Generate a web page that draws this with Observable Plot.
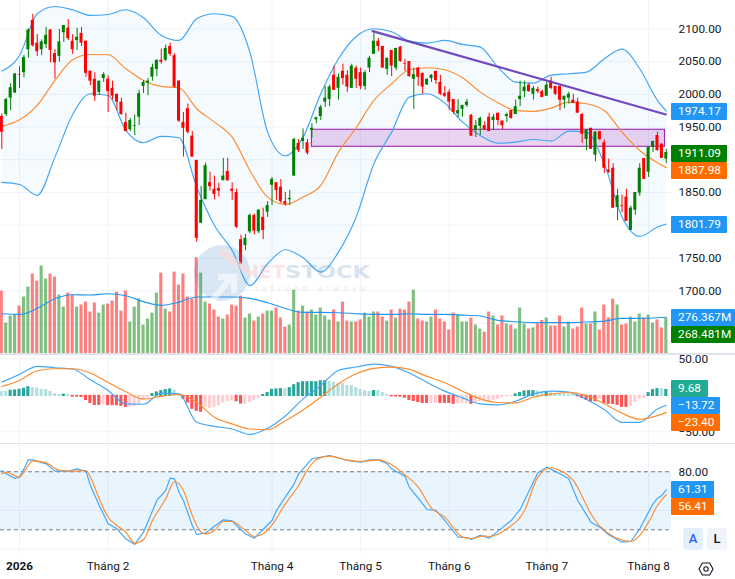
<!DOCTYPE html>
<html>
<head>
<meta charset="utf-8">
<style>
html,body{margin:0;padding:0;background:#fff;}
#root{position:relative;width:735px;height:579px;overflow:hidden;font-family:Roboto,sans-serif;}
#root svg{position:absolute;left:0;}
.sep{position:absolute;left:0;width:735px;background:#e0e3eb;}
.tag{position:absolute;left:671px;height:17px;line-height:17px;color:#fff;font-size:11.8px;padding-left:7px;box-sizing:border-box;border-radius:1px;white-space:nowrap;}
.btn{position:absolute;top:528px;width:20px;height:22px;line-height:22px;border-radius:3px;text-align:center;font-size:13px;font-weight:500;}
</style>
</head>
<body>
<div id="root"></div>
<script src="https://cdn.jsdelivr.net/npm/d3@7"></script>
<script src="https://cdn.jsdelivr.net/npm/@observablehq/plot@0.6"></script>
<script>
// ---- candles: one entry per session ----
const open = [1966,1969,1994,2002,2030,2033,2068,2113,2078,2068,
2076,2098,2062,2058,2094,2101,2081,2082,2093,2081,
2035,2023,2003,2024,2023,2009,2000,1988,1957,1946,
1951,1965,2012,2017,2026,2038,2052,2052,2073,2059,
2020,1957,1978,1936,1899,1803,1839,1865,1855,1856,
1868,1882,1855,1850,1778,1769,1790,1815,1790,1812,
1820,1861,1865,1858,1836,1839,1875,1925,1928,1926,
1945,1961,1966,1988,1992,2029,2009,2035,2029,2009,
2040,2033,2012,2040,2061,2081,2073,2038,2067,2040,
2072,2047,2050,2023,2040,2032,2014,2024,2035,2018,
2001,2003,1992,1970,1977,1983,1968,1945,1951,1952,
1965,1960,1971,1959,1966,1975,1969,1992,2004,2014,
2000,2007,2004,1997,2020,2012,2012,1991,1994,1991,
1988,1969,1931,1948,1907,1943,1926,1884,1887,1827,
1830,1843,1792,1823,1849,1902,1881,1919,1937,1924,
1901];
const high = [1970,1994,2016,2032,2042,2059,2100,2122,2091,2083,
2102,2099,2068,2099,2105,2114,2091,2101,2102,2081,
2036,2033,2020,2033,2028,2020,2000,1994,1971,1963,
1968,2006,2021,2024,2046,2052,2069,2075,2078,2062,
2021,1972,1985,1943,1899,1859,1895,1881,1875,1864,
1902,1902,1865,1855,1785,1786,1817,1817,1824,1826,
1836,1873,1865,1870,1850,1853,1933,1931,1947,1931,
1955,1965,1983,2012,2014,2043,2031,2046,2036,2046,
2043,2040,2036,2058,2093,2085,2073,2055,2067,2070,
2073,2053,2050,2040,2041,2032,2023,2030,2035,2029,
2012,2007,1992,1992,1983,1992,1969,1960,1965,1958,
1971,1969,1971,1959,1971,1975,1991,2020,2020,2017,
2012,2011,2006,2018,2026,2012,2014,1997,2003,2000,
1994,1971,1946,1948,1943,1943,1930,1901,1894,1855,
1846,1855,1829,1850,1894,1902,1920,1928,1942,1924,
1916];
const low = [1916,1966,1975,2001,2009,2025,2055,2072,2058,2059,
2070,2048,2023,2049,2079,2082,2061,2067,2073,2026,
2013,1989,1998,2018,1972,1991,1975,1968,1943,1943,
1937,1952,2001,1998,2020,2027,2046,2050,2058,2009,
1957,1904,1939,1904,1774,1803,1839,1852,1839,1843,
1868,1867,1838,1795,1740,1761,1787,1785,1787,1778,
1812,1830,1838,1833,1829,1830,1875,1911,1916,1907,
1933,1955,1960,1980,1981,2006,1991,2014,2003,2009,
2009,2007,2006,2033,2061,2065,2040,2029,2027,2036,
2049,2035,2026,1977,2012,2000,2014,2018,2015,1998,
1995,1975,1969,1964,1965,1980,1936,1934,1937,1945,
1943,1945,1952,1946,1957,1962,1969,1981,1995,2003,
1991,2001,1995,1997,2007,1998,1975,1978,1985,1986,
1971,1925,1914,1916,1897,1929,1879,1879,1826,1807,
1819,1806,1792,1815,1844,1870,1873,1911,1913,1902,
1894];
const close = [1942,1992,2010,2031,2029,2056,2098,2074,2065,2080,
2090,2067,2048,2080,2105,2085,2068,2087,2078,2032,
2020,1997,2020,2030,2004,1997,1988,1969,1943,1960,
1952,2001,2018,2020,2041,2052,2049,2070,2061,2011,
1959,1948,1942,1904,1780,1838,1891,1859,1847,1852,
1875,1868,1852,1797,1740,1780,1815,1791,1823,1792,
1830,1870,1853,1836,1832,1841,1931,1914,1933,1910,
1948,1964,1980,1994,2011,2006,2026,2024,2011,2043,
2023,2012,2033,2055,2081,2073,2040,2055,2043,2070,
2050,2046,2027,2030,2026,2011,2023,2029,2021,2000,
1997,1988,1972,1975,1983,1988,1936,1952,1963,1946,
1943,1965,1960,1952,1969,1963,1981,1997,2011,2004,
2009,2004,1995,2014,2009,2000,1991,1997,2000,1986,
1971,1939,1945,1916,1942,1931,1887,1881,1826,1845,
1829,1806,1826,1850,1887,1870,1919,1928,1914,1902,
1911.09];
// ---- Bollinger bands, read every 4th session ----
const bandBars = [0,4,8,12,16,20,24,28,32,36,40,44,48,52,56,60,64,68,72,76,80,84,88,92,96,100,104,108,112,116,120,124,128,132,136,140,144,148,150];
const bandUpper = [2035.4,2059.3,2122.9,2134.1,2129,2120.4,2121.9,2129,2116.8,2089.9,2082.2,2115.3,2122.9,2118.9,
2064.4,1942.2,1906.1,1934.6,2000.8,2054.2,2088.3,2100,2095.4,2081.2,2078.2,2082.2,2076.1,2072,
2041.5,2018.6,2017,2029.3,2031.3,2033.9,2054.2,2069,2039,1990.6,1974.17];
const bandMiddle = [1950.9,1961,1983,2021.1,2052.7,2060.8,2060.3,2039,2021.1,2012,2010,1977.9,1957.5,1934.6,
1883.7,1843,1831.8,1843,1860.8,1911.7,1948.9,1990.6,2016,2037.4,2040.5,2037.4,2025.2,2003.3,
1987,1975.3,1973.8,1978.9,1988,1985.5,1975.3,1942.2,1914.2,1895.4,1887.98];
const bandLower = [1865.4,1862.3,1845.5,1904,1969.2,2000.8,1998.2,1944.8,1925.9,1935.6,1933.6,1858.3,1799.7,1761.5,
1708.1,1741.2,1762.6,1750.4,1728.5,1759,1812.5,1893.9,1942.2,1995.7,2000.8,1986.5,1957.5,1937.2,
1925.4,1927,1931,1928.5,1943.8,1942.2,1893.9,1812.5,1782.9,1797.2,1801.79];
// ---- drawings on the price pane ----
const trendBars = [83.7,149.9];
const trendValues = [2096.5,1969.2];
const zoneBars = [70,149.7];
const zoneValues = [1945.8,1919.8];
// ---- volume, in millions ----
const volume = [474,233,286,293,361,429,504,602,549,662,
564,602,579,444,353,459,444,353,369,391,
316,384,308,369,376,399,466,323,474,241,
353,414,218,263,308,459,609,338,316,617,
519,602,429,414,724,609,391,376,331,278,
263,293,369,361,436,271,301,248,278,301,
323,323,346,271,203,218,481,323,361,316,
331,293,346,286,256,331,241,391,248,241,
241,256,308,278,316,316,278,248,331,271,
338,331,391,481,263,248,241,278,331,263,
241,180,308,293,241,241,271,218,188,165,
316,286,218,286,226,218,188,346,226,188,
196,226,253,271,211,211,286,203,241,188,
203,346,226,226,316,180,369,271,414,369,
218,226,278,241,301,271,293,233,256,196,
268.481];
const volumeMaBars = [0,4,8,12,16,20,24,28,32,36,40,44,48,52,56,60,64,68,72,76,80,84,88,92,96,100,104,108,112,116,120,124,128,132,136,140,144,148,150];
const volumeMa = [303,298,343,416,446,444,454,439,394,366,391,429,429,429,419,386,343,313,313,311,303,298,298,303,298,298,293,286,253,243,236,236,236,241,248,268,268,273,276.367];
// ---- MACD ----
const macdHist = [6.8,6.8,8.6,9,9.9,11.3,13.5,12.2,11.3,9.5,
9.5,6.8,4,2.7,3.2,2.7,-0.9,-0.9,-1.4,-5.4,
-9.5,-12.2,-12.2,-10.8,-12.6,-12.6,-12.6,-13.5,-14.9,-14.4,
-13.5,-9.9,-4.5,-1.8,4,6.3,8.1,9.5,10.4,8.6,
3.6,-3.6,-9,-17.6,-20.3,-21.6,-14.9,-16.2,-14.9,-12.6,
-9,-6.8,-5.4,-7.2,-10.4,-10.4,-8.1,-5.4,-2.7,2.7,
5.4,9.9,10.4,10.8,10.8,12.2,16.2,18.9,20.3,20.3,
20.3,20.3,21.6,21.6,20.7,19.4,17.6,17.6,14.9,14.9,
12.2,9.5,8.1,6.8,8.1,8.1,5.4,2.7,-0.5,-0.5,
-0.9,-2.3,-5.4,-6.8,-8.1,-9.5,-9.5,-9.5,-9.5,-9.5,
-9.5,-9.5,-10.8,-9.5,-9.5,-9.5,-10.8,-8.1,-6.8,-6.8,
-8.1,-5.4,-4,-1.4,-0.5,-0.5,3.6,5.4,7.7,8.1,
8.1,7.7,6.3,6.3,5.4,4,4,3.6,3.6,2.7,
-0.5,-2.7,-5.4,-7.2,-7.2,-4,-9.5,-10.8,-10.8,-12.2,
-14.9,-14.9,-13.5,-8.1,-4,-2.7,5.4,9.5,10.8,10.8,
9.68];
const macdKinds = "LLDDDDDLLLLLLLDLRRRRRRRPRRRRRPPPPPDDDDDLLRRRRRPPPPPPPRRPPPPDDDDDLDDDDDDDDDLLLLLLLLLLDLLLRRRRRRRRRPPRRRRPPPRPPPPPPPPPDDDDDLLDLLLLLLRRRRRPRRRRRRPPPPDDDLD";
const macdBars = [0,4,8,12,16,20,24,28,32,36,40,44,48,52,56,60,64,68,72,76,80,84,88,92,96,100,104,108,112,116,120,124,128,132,136,140,144,148,150];
const macdLine = [18.1,28.6,39.6,37.8,36,21.3,6.6,-11.7,-12.2,2.9,2,-37,-42.5,-46.1,-53.5,-45.2,-28.3,-4.9,13.5,34.1,38.7,
42.8,39.6,30.5,17.6,5.7,-3.5,-11.7,-13.1,-8.1,2,5.7,4.3,-5.8,-19.5,-37,-37,-18.6,-13.72];
const macdSignal = [12.1,20.4,33.7,36.4,36.4,30.5,17.6,4.8,-5.3,-1.2,1.1,-9.4,-30.1,-39.3,-46.1,-47.1,-34.7,-20,-2.6,15.8,29.5,
36.9,38.7,35.5,25.9,17.2,5.7,-4.9,-9.9,-10.4,-2.6,1.6,3.9,-0.3,-11.7,-24.6,-32.8,-27.8,-23.4];
// ---- stochastic ----
const stochKBars = [0,1,3,4,5,6,7,10,12,15,17,19,20,22,24,26,28,30,32,35,37,38,39,40,41,43,44,46,48,50,52,53,55,57,59,61,62,64,66,67,70,74,78,81,83,
85,87,88,91,92,95,96,98,100,103,105,106,108,110,112,115,117,121,123,126,128,130,133,135,137,140,142,144,147,148,149,150];
const stochK = [81.3,77.9,73,74.4,83,92.3,92.3,88.2,80.6,80.6,83,80.6,65.8,45.1,26.2,21,10.6,4.8,17.5,50.3,60.6,73.4,72.7,58.9,50.3,24.4,15.1,16.8,23.7,30.3,29.3,24.4,15.8,11.3,20.3,29.6,40,53.7,67.5,77.9,93.4,96.8,91.6,89.9,92.3,
92.3,88.2,83,75.4,64.1,46.8,41,40,29.6,12.4,12,10,14.4,11.3,18.6,29.6,41,78.9,84.8,77.9,72.7,50.3,27.9,22.7,14.8,7.2,7.9,21,46.8,52.7,55.5,61.31];
const stochDBars = [0,1,4,5,7,10,13,16,19,20,22,24,26,28,30,32,34,37,39,41,43,45,46,48,50,52,55,57,59,61,64,67,69,71,74,78,81,83,
85,87,91,94,97,100,104,106,109,110,114,118,121,124,126,129,133,135,142,144,146,148,150];
const stochD = [77.9,79.6,74.4,79.6,91.3,89.2,81.6,80.6,81.3,74.4,52,33,24.4,17.5,6.2,10,29.6,52,69.9,60.6,34.8,17.5,15.8,19.3,28.6,28.6,19.3,13,15.8,25.1,46.8,65.8,82,92.7,96.1,92,90.6,91.3,
92.3,89.9,76.8,64.1,42.4,33.1,12.4,11,13.7,13,21,40,74.4,84.1,81.3,71,36.5,23.7,7.9,14.1,27.9,45.1,56.41];
// ---- axes ----
const priceTicks = [2100,2050,2000,1950,1900,1850,1800,1750,1700,1650];
const priceLabels = [2100,2050,2000,1950,1850,1750,1700];
const macdTicks = [50,-50];
const stochGrid = [80,40,0];
const stochLabels = [80];
const monthBars = [24,61,81,101,123,146];
const monthNames = ["Tháng 2","Tháng 4","Tháng 5","Tháng 6","Tháng 7","Tháng 8"];
const yearBar = [4];
const yearNames = ["2026"];
const gridBars = yearBar.concat(monthBars);
const tags = [
  ["1974.17","#2196f3",102.5,56],
  ["1911.09","#008000",144.5,56],
  ["1887.98","#ff6d00",161.5,56],
  ["1801.79","#2196f3",215.5,56],
  ["276.367M","#2196f3",309,64],
  ["268.481M","#008000",325.5,64],
  ["9.68","#22ab94",380,37],
  ["\u221213.72","#2196f3",397,49],
  ["\u221223.40","#ff6d00",414,49],
  ["61.31","#2196f3",481,43],
  ["56.41","#ff6d00",498,43]
];

const BLUE="#42a5f5", ORANGE="#ff8c2e", GRID="#f0f3fa", INK="#131722";
const FONT="Roboto,sans-serif";
const LW=1.15;
const sessions = d3.range(open.length);
const candles = sessions.map(i=>({i,o:open[i],h:high[i],l:low[i],c:close[i],v:volume[i],up:close[i]>=open[i],m:macdHist[i],k:macdKinds[i]}));
const zip=(xs,ys)=>xs.map((b,j)=>({b,v:ys[j]}));
const band = bandBars.map((b,j)=>({b,u:bandUpper[j],mid:bandMiddle[j],lo:bandLower[j]}));
const xOpt = {domain:[-0.293,151.17],range:[0,671],axis:null};
const frame = {width:735,marginLeft:0,marginRight:64,marginTop:0,marginBottom:0,
  style:{background:"transparent",fontFamily:FONT,fontSize:"11.8px",overflow:"visible"}};
const yPrice = {domain:[1602.6,2143.2],axis:null};
const axisOpt = {anchor:"right",tickSize:0,tickPadding:7,fill:INK,tickFormat:d=>d.toFixed(2).replace("-","\u2212"),label:null};
const root=document.getElementById("root");
const put=(svg,top)=>{svg.style.top=top+"px";root.appendChild(svg);};

// base layer: grid and price axis
put(Plot.plot({...frame,height:354,x:xOpt,y:yPrice,marks:[
  Plot.ruleY(priceTicks,{stroke:GRID,strokeWidth:1}),
  Plot.ruleX(gridBars,{stroke:GRID,strokeWidth:1}),
  Plot.axisY({...axisOpt,ticks:priceLabels})
]}),0);

// volume layer
put(Plot.plot({...frame,height:354,x:xOpt,y:{domain:[0,2662],range:[353.5,0],axis:null},marks:[
  Plot.rect(candles,{x1:d=>d.i-0.35,x2:d=>d.i+0.35,y1:0,y2:"v",fill:d=>d.up?"#008000":"#ff0000",fillOpacity:0.5}),
  Plot.line(zip(volumeMaBars,volumeMa),{x:"b",y:"v",stroke:"#2196f3",strokeWidth:LW,curve:"monotone-x"})
]}),0);

// price layer
put(Plot.plot({...frame,height:354,x:xOpt,y:yPrice,clip:true,marks:[
  Plot.areaY(band,{x:"b",y1:"lo",y2:"u",fill:"#2196f3",fillOpacity:0.05,curve:"monotone-x",clip:true}),
  Plot.rect([0],{x1:zoneBars[0],x2:zoneBars[1],y1:zoneValues[1],y2:zoneValues[0],fill:"#9c27b0",fillOpacity:0.2,stroke:"#9c27b0",strokeWidth:1.1}),
  Plot.line(band,{x:"b",y:"u",stroke:BLUE,strokeWidth:LW,curve:"monotone-x",clip:true}),
  Plot.line(band,{x:"b",y:"lo",stroke:BLUE,strokeWidth:LW,curve:"monotone-x",clip:true}),
  Plot.line(band,{x:"b",y:"mid",stroke:ORANGE,strokeWidth:LW,curve:"monotone-x",clip:true}),
  Plot.ruleX(candles,{x:"i",y1:"l",y2:"h",stroke:d=>d.up?"#008000":"#ff0000",strokeWidth:1}),
  Plot.rect(candles,{x1:d=>d.i-0.34,x2:d=>d.i+0.34,y1:"o",y2:"c",fill:d=>d.up?"#008000":"#ff0000"}),
  Plot.line(zip(trendBars,trendValues),{x:"b",y:"v",stroke:"#673ab7",strokeWidth:2.2,strokeOpacity:0.92})
]}),0);

// MACD pane
const kindColor={D:"#26a69a",L:"#b2dfdb",R:"#ff5252",P:"#ffcdd2"};
put(Plot.plot({...frame,height:89,x:xOpt,y:{domain:[-66,55.9],axis:null},clip:true,marks:[
  Plot.ruleY(macdTicks,{stroke:GRID}),
  Plot.ruleX(gridBars,{stroke:GRID}),
  Plot.axisY({...axisOpt,ticks:macdTicks,clip:false}),
  Plot.rect(candles,{x1:d=>d.i-0.35,x2:d=>d.i+0.35,y1:d=>d.m<0?1.6:0,y2:"m",dy:1.2,fill:d=>kindColor[d.k]}),
  Plot.line(zip(macdBars,macdLine),{x:"b",y:"v",stroke:BLUE,strokeWidth:LW,curve:"monotone-x"}),
  Plot.line(zip(macdBars,macdSignal),{x:"b",y:"v",stroke:ORANGE,strokeWidth:LW,curve:"monotone-x"})
]}),354);

// stochastic pane + time axis
put(Plot.plot({...frame,height:135,marginBottom:26,x:xOpt,y:{domain:[-4.55,108.2],axis:null},marks:[
  Plot.ruleY(stochGrid.slice(1),{stroke:GRID}),
  Plot.ruleX(gridBars,{stroke:GRID}),
  Plot.rect([0],{x1:xOpt.domain[0],x2:xOpt.domain[1],y1:20,y2:80,fill:"#2196f3",fillOpacity:0.1}),
  Plot.ruleY([80,20],{stroke:"#787b86",strokeWidth:1,strokeDasharray:"4,3"}),
  Plot.line(zip(stochKBars,stochK),{x:"b",y:"v",stroke:BLUE,strokeWidth:LW}),
  Plot.line(zip(stochDBars,stochD),{x:"b",y:"v",stroke:ORANGE,strokeWidth:LW,curve:"monotone-x"}),
  Plot.axisY({...axisOpt,ticks:stochLabels}),
  Plot.axisX({anchor:"bottom",ticks:monthBars,tickSize:0,tickPadding:8,fill:INK,label:null,tickFormat:d=>monthNames[monthBars.indexOf(d)]}),
  Plot.axisX({anchor:"bottom",ticks:yearBar,tickSize:0,tickPadding:8,fill:INK,label:null,fontWeight:"bold",tickFormat:d=>yearNames[yearBar.indexOf(d)]})
]}),444);

// pane separators
[[353,1.6],[443,1]].forEach(([t,h])=>{const s=document.createElement("div");s.className="sep";s.style.top=t+"px";s.style.height=h+"px";root.appendChild(s);});

// watermark
const wm=document.createElement("div");
wm.style.cssText="position:absolute;left:190px;top:243px;width:185px;height:60px;pointer-events:none;";
wm.innerHTML=`<svg width="185" height="60" viewBox="0 0 185 60" style="position:absolute;left:0;top:0;overflow:visible">
<circle cx="32" cy="30" r="28" fill="#3f86c8" opacity="0.2"/>
<path d="M20 60 L40 36 M28 34 L44 34 L44 50" stroke="#fff" stroke-width="6" fill="none" opacity="0.55"/>
<path d="M30 8 L62 32" stroke="#ffd9d6" stroke-width="7" fill="none" opacity="0.6"/>
<text x="62" y="35" font-family="Verdana,'DejaVu Sans',sans-serif" font-weight="700" font-size="17.5" textLength="33" lengthAdjust="spacingAndGlyphs" fill="#f08c86" opacity="0.22">IET</text>
<text x="95" y="35" font-family="Verdana,'DejaVu Sans',sans-serif" font-weight="700" font-size="17.5" textLength="85" lengthAdjust="spacingAndGlyphs" fill="#5f8fc0" opacity="0.24">STOCK</text>
<text x="65" y="48" font-family="Roboto,sans-serif" font-size="8" textLength="110" fill="#8a97a6" opacity="0.2">refresh always</text>
</svg>`;
root.appendChild(wm);

// price tags
tags.forEach(([t,c,top,w])=>{const d=document.createElement("div");d.className="tag";d.textContent=t;d.style.background=c;d.style.top=top+"px";d.style.width=w+"px";root.appendChild(d);});

// scale buttons + settings icon
const a=document.createElement("div");a.className="btn";a.textContent="A";a.style.cssText="left:683px;background:#e3effd;color:#2962ff;";root.appendChild(a);
const l=document.createElement("div");l.className="btn";l.textContent="L";l.style.cssText="left:707px;background:#f0f3fa;color:#131722;";root.appendChild(l);
const g=document.createElement("div");
g.style.cssText="position:absolute;left:698px;top:561px;width:16px;height:16px;";
g.innerHTML=`<svg width="16" height="16" viewBox="0 0 16 16" style="position:absolute;left:0;top:0"><path d="M4.3 2 L11.7 2 L15 8 L11.7 14 L4.3 14 L1 8 Z" fill="none" stroke="#131722" stroke-width="1.1"/><circle cx="8" cy="8" r="2.2" fill="none" stroke="#131722" stroke-width="1.1"/></svg>`;
root.appendChild(g);
</script>
</body>
</html>
